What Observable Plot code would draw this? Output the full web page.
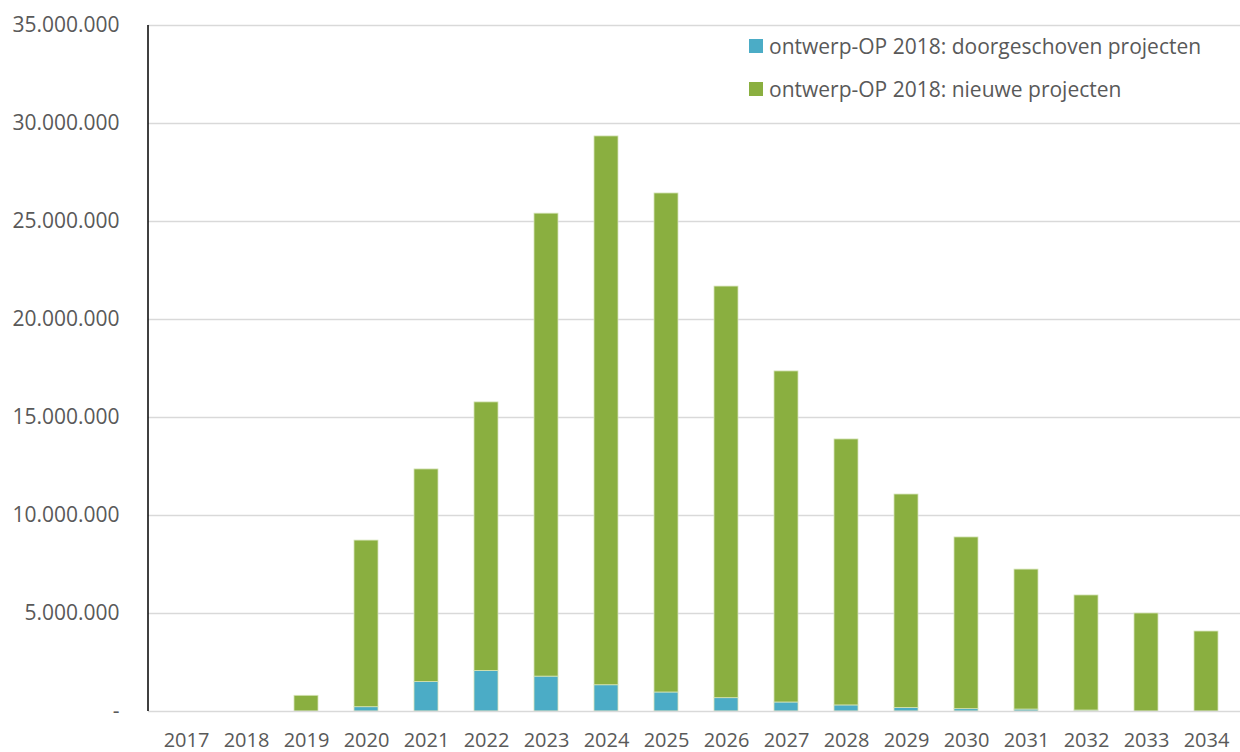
<!DOCTYPE html>
<html><head><meta charset="utf-8">
<script src="https://cdn.jsdelivr.net/npm/d3@7"></script>
<script src="https://cdn.jsdelivr.net/npm/@observablehq/plot@0.6"></script>
<style>
body{margin:0;background:#fff;font-family:"Open Sans",sans-serif;}
#wrap{position:relative;width:1240px;height:752px;}
.leg{position:absolute;left:749px;font-size:21px;color:#595959;display:flex;align-items:center;white-space:nowrap;line-height:28px;}
.sw{width:14px;height:14px;margin-right:6px;display:inline-block;}
</style></head><body>
<div id="wrap"></div>
<script>
const years = ["2017","2018","2019","2020","2021","2022","2023","2024","2025","2026","2027","2028","2029","2030","2031","2032","2033","2034"];
const doorgeschoven = [0,0,0,220000,1500000,2070000,1780000,1340000,970000,680000,460000,310000,180000,120000,100000,50000,0,0];
const totaal = [0,0,800000,8720000,12350000,15770000,25400000,29340000,26430000,21680000,17350000,13880000,11070000,8880000,7240000,5920000,5000000,4080000];
const nieuw = totaal.map((t,i)=>t-doorgeschoven[i]);
const seriesNames = ["ontwerp-OP 2018: doorgeschoven projecten","ontwerp-OP 2018: nieuwe projecten"];
const colors = ["#4bacc6","#8aaf40"];
const yTicks = [0,5000000,10000000,15000000,20000000,25000000,30000000,35000000];

const data = [];
years.forEach((y,i)=>{
  data.push({year:y, serie:seriesNames[0], value:doorgeschoven[i]});
  data.push({year:y, serie:seriesNames[1], value:nieuw[i]});
});
const fmt = d => d===0 ? "-" : d3.format(",")(d).replace(/,/g,".");

const chart = Plot.plot({
  width:1240, height:752,
  marginLeft:148, marginRight:0, marginTop:25, marginBottom:41,
  style:{fontSize:"20px", fontFamily:"Open Sans, sans-serif", color:"#595959", background:"#fff", overflow:"visible"},
  x:{domain:years, range:[148,1243], paddingInner:0.6, paddingOuter:0.3, label:null},
  y:{domain:[0,35000000], label:null},
  color:{domain:seriesNames, range:colors},
  marks:[
    Plot.gridY(yTicks.slice(1), {stroke:"#d9d9d9", strokeOpacity:1, strokeWidth:1.5}),
    Plot.barY(data, Plot.stackY({x:"year", y:"value", fill:"serie", order:seriesNames, stroke:"#d6e4b8", strokeWidth:0.8})),
    Plot.ruleY([0], {stroke:"#d9d9d9", strokeWidth:1.5}),
    Plot.axisY({ticks:yTicks, tickFormat:fmt, tickSize:0, tickPadding:29, label:null, fontSize:21}),
    Plot.axisX({tickSize:0, tickPadding:21, label:null, fontSize:20})
  ]
});
document.getElementById("wrap").appendChild(chart);
const svg = d3.select(chart);
svg.append("line").attr("x1",148).attr("x2",148).attr("y1",25).attr("y2",711).attr("stroke","#000").attr("stroke-width",1.5);

const wrap = document.getElementById("wrap");
[[46,0],[89,1]].forEach(([top,i])=>{
  const d = document.createElement("div");
  d.className="leg"; d.style.top=(top-14)+"px";
  d.innerHTML = `<span class="sw" style="background:${colors[i]}"></span><span>${seriesNames[i]}</span>`;
  wrap.appendChild(d);
});
</script>
</body></html>
